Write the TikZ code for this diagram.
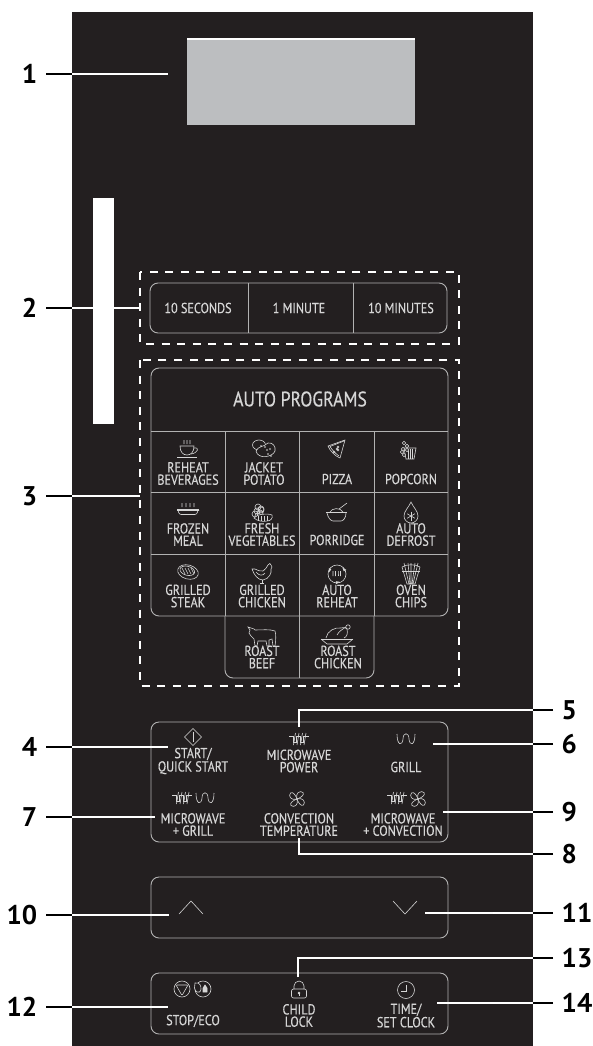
\documentclass[tikz,border=0pt]{standalone}
\usepackage{fontspec}
\usetikzlibrary{calc}
\usetikzlibrary{positioning}
\definecolor{panelblack}{RGB}{35, 31, 32}
\definecolor{displaygray}{RGB}{188, 190, 192}
\definecolor{keygray}{RGB}{214, 214, 214}
\definecolor{framegray}{RGB}{178, 178, 178}
\newfontfamily\keyfont[FakeStretch=0.84, FakeBold=0.35]{PT Sans}
\newfontfamily\numfont[FakeStretch=1.0, BoldFont={PT Sans Bold}]{PT Sans}
\tikzset{
    panel/.style={fill=panelblack, inner sep=0pt, anchor=north west},
    numlabel/.style={font=\numfont\bfseries\fontsize{27}{27}\selectfont, inner ysep=0pt, inner xsep=8.5pt, text=black},
    keytext/.style={font=\keyfont\fontsize{14.5}{12.3}\selectfont, align=center, text=keygray, inner sep=0pt},
    keyframe/.style={draw=framegray, line width=0.9pt, rounded corners=8pt},
    gridline/.style={draw=framegray, line width=0.9pt},
    dashbox/.style={draw=white, line width=1.2pt, dash pattern=on 8pt off 7.6pt},
    leaderin/.style={draw=white, line width=1.4pt},
    leaderout/.style={draw=black, line width=1.4pt},
    icon/.style={draw=keygray, line width=0.6pt},
    iconcup/.pic={
        \draw[icon] (-8,-3) -- (6,-3) .. controls (6,3) and (3,6) .. (-1,6) .. controls (-5,6) and (-8,3) .. (-8,-3) -- cycle;
        \draw[icon] (-11,8) -- (9,8);
        \draw[icon] (6,-1) .. controls (12,-2) and (10,4) .. (3,5);
        \foreach \x in {-4,-1,2} \draw[icon] (\x,-9) .. controls (\x+1.5,-7.5) and (\x-1.5,-6.5) .. (\x,-5);
    },
    iconpotato/.pic={
        \draw[icon] (-5,-4) ellipse [x radius=6.5, y radius=5];
        \draw[icon, fill=panelblack] (-8,2) .. controls (-6,-3) and (0,-2) .. (4,-6) .. controls (9,-7) and (12,-2) .. (11,2) .. controls (9,8) and (-6,11) .. (-8,2) -- cycle;
        \foreach \x/\y in {-3,3/1,4/5,1/-2,6/0,7} \draw[icon] (\x,\y) circle (0.4);
    },
    iconpizza/.pic={
        \draw[icon] (8,-9) -- (-9,-3) .. controls (-7,2) and (-2,7) .. (3,9) -- cycle;
        \draw[icon] (7,-8) -- (-7,-2.5) .. controls (-5,1) and (-1,5) .. (2,7);
        \foreach \x/\y in {1,-3/3,1/-2,0} \draw[icon] (\x,\y) circle (1);
    },
    iconpopcorn/.pic={
        \draw[icon] (-6,-1) -- (6,-1) -- (4,10) -- (-4,10) -- cycle;
        \foreach \x in {-2,0.5,2.5} \draw[icon] (\x,0) -- (\x,10);
        \foreach \x/\y in {-6,-3/-3,-7/0,-8/3,-6/6,-3/1,-3} \draw[icon, fill=panelblack] (\x,\y) circle (1.8);
    },
    icondish/.pic={
        \draw[icon] (-11,0) -- (11,0);
        \draw[icon] (-11,1.5) -- (11,1.5) (-10,1.5) .. controls (-9,5) and (-8,5.5) .. (-7,5.5) -- (7,5.5) .. controls (8,5.5) and (9,5) .. (10,1.5);
        \foreach \x in {-6,-2,2,6} \draw[icon] (\x,-6) .. controls (\x+1.2,-4.5) and (\x-1.2,-3.5) .. (\x,-2);
    },
    iconveg/.pic={
        \foreach \x/\y in {-5,-6/-1,-8/2,-5/4,-2/-3,-3/1,-2} \draw[icon] (\x,\y) circle (3);
        \draw[icon, fill=panelblack] (-9,6) .. controls (-6,2) and (4,1) .. (9,3) .. controls (10,6) and (8,9) .. (4,9) .. controls (0,10) and (-6,9) .. (-9,6) -- cycle;
        \foreach \x in {-5,-2,1,4} \draw[icon] (\x,4) -- (\x,9);
    },
    iconbowl/.pic={
        \draw[icon] (-11,0) -- (10,0);
        \draw[icon] (-10,1) .. controls (-9,6) and (-6,9) .. (-4,9) -- (4,9) .. controls (6,9) and (9,6) .. (9,1);
        \draw[icon] (-7,0) .. controls (-5,-4) and (3,-5) .. (6,0);
        \draw[icon] (2,-3) -- (10,-9);
    },
    icondrop/.pic={
        \draw[icon] (0,-11) .. controls (-2,-6) and (-7,-2) .. (-7,3) .. controls (-7,7) and (-3.5,10) .. (0,10) .. controls (3.5,10) and (7,7) .. (7,3) .. controls (7,-2) and (2,-6) .. (0,-11) -- cycle;
        \foreach \a in {0,60,120} \draw[icon, rotate around={\a:(0,3)}] (0,-1.5) -- (0,7.5);
    },
    iconsteak/.pic={
        \draw[icon, rotate=-15] (0,0) ellipse [x radius=10.5, y radius=7];
        \draw[icon, rotate=-15] (-1,-1) ellipse [x radius=7.5, y radius=4.5];
        \foreach \x in {-5,-2,1,4} \draw[icon] (\x-1,-4) -- (\x+2,2);
    },
    iconchicken/.pic={
        \draw[icon] (-10,-4) -- (-7,-4) .. controls (-4,-3) and (-2,-1) .. (1,-2) .. controls (4,-3) and (4,-6) .. (6,-8) .. controls (7,-10) and (9,-10) .. (9,-8) -- (10,-6) -- (9,-4) .. controls (10,0) and (7,6) .. (1,7) .. controls (-4,7) and (-8,2) .. (-10,-4) -- cycle;
        \draw[icon] (-6,-1) .. controls (-3,3) and (1,3) .. (3,0);
        \draw[icon] (0,7) -- (0,10) (-2,10) -- (2,10);
    },
    iconreheat/.pic={
        \draw[icon] (0,0) circle (9);
        \foreach \a in {90,210,330} \draw[icon, fill=keygray] (\a:9) ++(\a-30:-1.6) -- ++(\a:2) -- ++(\a-120:3.2) -- cycle;
        \foreach \x in {-4,-1.5,1,3.5} \draw[icon] (\x,-3) .. controls (\x+1.5,-1.5) and (\x-1.5,0) .. (\x,2);
    },
    iconchips/.pic={
        \draw[icon] (-9,-7) -- (-4,10) -- (4,10) -- (9,-7);
        \draw[icon] (-9,-7) .. controls (-5,-10) and (5,-10) .. (9,-7);
        \draw[icon] (-7,-11) -- (-2,10) (-3,-11) -- (-1,10) (0,-11) -- (0,10) (4,-11) -- (1,10) (7,-11) -- (2,10);
        \draw[icon] (-9,-3) -- (9,-3);
    },
    iconcow/.pic={
        \draw[icon] (-14,-9) -- (-8,-7) -- (-7,-6) .. controls (0,-6) and (8,-7) .. (13,-5) .. controls (14,-2) and (14,4) .. (13,10) -- (11,10) -- (10,3) -- (7,4) -- (7,10) -- (5,10) -- (4,5) -- (-4,5) -- (-5,10) -- (-7,10) -- (-8,3) -- (-11,0) -- (-13,-3) -- (-12,-6) -- cycle;
    },
    iconroast/.pic={
        \draw[icon] (-16,4) -- (16,4);
        \draw[icon] (-16,4) -- (-10,9) -- (10,9) -- (16,4);
        \draw[icon] (-11,3) .. controls (-10,-4) and (-2,-8) .. (4,-7) .. controls (8,-8) and (9,-7) .. (10,-6);
        \draw[icon] (10,-6) .. controls (11,-2) and (10,2) .. (7,3);
        \draw[icon] (0,0) .. controls (2,-4) and (6,-6) .. (9,-8);
        \draw[icon] (11,-8) circle (2.2);
    },
    iconstart/.pic={
        \draw[icon] (0,-8.5) -- (8.5,0) -- (0,8.5) -- (-8.5,0) -- cycle;
        \draw[icon] (0,-5) -- (0,5);
    },
    iconmwave/.pic={
        \draw[icon] (-10,-2.5) -- (-6,-2.5) -- (-6,3) -- (-2.5,3) -- (-2.5,-2.5) -- (1,-2.5) -- (1,3) -- (4.5,3) -- (4.5,-2.5) -- (10,-2.5);
        \foreach \x in {-4.5,-1,2.5,6} \draw[icon] (\x+1,-6) -- (\x-1,6);
    },
    icongrill/.pic={
        \draw[icon] (-9,-5) .. controls (-9,7) and (-3.5,7) .. (-3,0) .. controls (-3,-7) and (3,-7) .. (3,0) .. controls (3.5,7) and (9,7) .. (9,-5);
    },
    iconfan/.pic={
        \foreach \a in {0,90,180,270} \draw[icon, rotate=\a] (0,0) .. controls (-2,-6) and (3,-9) .. (6,-6.5) .. controls (8,-4) and (3,-1) .. (0,0);
    },
    iconstop/.pic={
        \draw[icon] (0,0) circle (8);
        \draw[icon, rounded corners=1pt] (-6,-4) -- (6,-4) -- (0,6.5) -- cycle;
    },
    iconeco/.pic={
        \draw[icon] (0,0) circle (8);
        \draw[icon, fill=panelblack] (-8,-6) .. controls (-3,-7) and (-2,-3) .. (-2,0) .. controls (-2,3) and (-5,4) .. (-6,3) .. controls (-9,1) and (-9,-3) .. (-8,-6) -- cycle;
        \draw[icon, fill=keygray] (2,-4) -- (0,-1) -- (0,3) -- (4,3) -- (4,-1) -- cycle;
    },
    iconlock/.pic={
        \draw[icon, rounded corners=2pt] (-7.5,-1) rectangle (7.5,8);
        \draw[icon] (-5,-1) -- (-5,-4) arc [start angle=180, end angle=0, x radius=5, y radius=-5] -- (5,-1);
        \draw[icon, fill=keygray] (0,3) circle (1);
        \draw[icon] (0,3) -- (0,6);
    },
    iconclock/.pic={
        \draw[icon] (0,0) circle (8.5);
        \draw[icon] (0,-5) -- (0,1.5) -- (-5.5,1.5);
    },
}
\begin{document}
\begin{tikzpicture}[x=1pt, y=-1pt]
    \useasboundingbox (0,0) rectangle (593,1046);

    % Panel, display and strip
    \node[panel, minimum width=461pt, minimum height=1034pt] (front) at (72,12) {};
    \node[panel, fill=displaygray, minimum width=228pt, minimum height=86pt] (display) at (187,39) {};
    \draw[white, line width=1.2pt] (display.north west) -- (display.north east);
    \node[panel, fill=white, minimum width=21pt, minimum height=226pt] (strip) at (93,198) {};

    % Dashed boxes
    \draw[dashbox] (140,272) rectangle (459,344);
    \draw[dashbox] (140,360) rectangle (459,686);

    % Time buttons
    \draw[keyframe] (150,283) rectangle (447,333);
    \draw[gridline] (248,283) -- (248,333);
    \draw[gridline] (353,283) -- (353,333);
    \node[keytext] (t10s) at (198,308) {10 SECONDS};
    \node[keytext] (t1m) at (299,308) {1 MINUTE};
    \node[keytext] (t10m) at (401,308) {10 MINUTES};

    % Auto programs
    \draw[keyframe] (151,368) rectangle (448,616);
    \draw[keyframe] (225,616) -- (225,678) -- (374,678) -- (374,616);
    \draw[gridline] (151,431) -- (448,431);
    \draw[gridline] (151,492) -- (448,492);
    \draw[gridline] (151,554) -- (448,554);
    \draw[gridline] (225,431) -- (225,616);
    \draw[gridline] (299,431) -- (299,678);
    \draw[gridline] (374,431) -- (374,616);
    \node[keytext, font=\keyfont\fontsize{21}{21}\selectfont] (tauto) at (300,399) {AUTO PROGRAMS};

    \pic at (188,449) {iconcup};
    \pic at (264,449) {iconpotato};
    \pic at (337,449) {iconpizza};
    \pic at (410,449) {iconpopcorn};
    \node[keytext] (treheat) at (188,473.5) {REHEAT\\BEVERAGES};
    \node[keytext] (tjacket) at (264,473.5) {JACKET\\POTATO};
    \node[keytext] (tpizza) at (337,479) {PIZZA};
    \node[keytext] (tpopcorn) at (411,479) {POPCORN};

    \pic at (188,509) {icondish};
    \pic at (263,512) {iconveg};
    \pic at (337,512) {iconbowl};
    \pic at (411,513) {icondrop};
    \node[keytext] (tfrozen) at (188,534.5) {FROZEN\\MEAL};
    \node[keytext] (tfresh) at (262,534.5) {FRESH\\VEGETABLES};
    \node[keytext] (tporridge) at (337,540) {PORRIDGE};
    \node[keytext] (tdefrost) at (411,534.5) {AUTO\\DEFROST};

    \pic at (188,572) {iconsteak};
    \pic at (262,573) {iconchicken};
    \pic at (337,574) {iconreheat};
    \pic at (411,574) {iconchips};
    \node[keytext] (tsteak) at (188,596) {GRILLED\\STEAK};
    \node[keytext] (tgchicken) at (262,596) {GRILLED\\CHICKEN};
    \node[keytext] (tareheat) at (337,596) {AUTO\\REHEAT};
    \node[keytext] (tchips) at (411,596) {OVEN\\CHIPS};

    \pic at (262,636) {iconcow};
    \pic at (337,635) {iconroast};
    \node[keytext] (tbeef) at (262,657) {ROAST\\BEEF};
    \node[keytext] (trchicken) at (338,657) {ROAST\\CHICKEN};

    % Mode buttons
    \draw[keyframe] (151,722) rectangle (448,842);
    \pic at (193,737) {iconstart};
    \pic at (299,739) {iconmwave};
    \pic at (406,739) {icongrill};
    \node[keytext] (tstart) at (193,761) {START/\\QUICK START};
    \node[keytext] (tpower) at (299,761) {MICROWAVE\\POWER};
    \node[keytext] (tgrill) at (406,767) {GRILL};
    \pic at (182,798) {iconmwave};
    \pic at (205,798) {icongrill};
    \pic at (297,799) {iconfan};
    \pic at (397,798) {iconmwave};
    \pic at (418,799) {iconfan};
    \node[keytext] (tmwgrill) at (193,824.5) {MICROWAVE\\+ GRILL};
    \node[keytext] (tconv) at (299,824.5) {CONVECTION\\TEMPERATURE};
    \node[keytext] (tmwconv) at (403,824.5) {MICROWAVE\\+ CONVECTION};

    % Arrow buttons
    \draw[keyframe] (151,877) rectangle (448,938);
    \draw[icon] (179,914) -- (191,901) -- (203,914);
    \draw[icon] (393,901) -- (405,914) -- (417,901);

    % Bottom buttons
    \draw[keyframe] (151,973) rectangle (448,1034);
    \pic at (182,989) {iconstop};
    \pic at (203,989) {iconeco};
    \pic at (299,990) {iconlock};
    \pic at (406,990) {iconclock};
    \node[keytext] (tstop) at (193,1021) {STOP/ECO};
    \node[keytext] (tchild) at (299,1015.5) {CHILD\\LOCK};
    \node[keytext] (ttime) at (406,1015.5) {TIME/\\SET CLOCK};

    % Numbers on the left
    \node[numlabel, anchor=east] (n1) at (46,74) {1};
    \node[numlabel, anchor=east] (n2) at (46,308) {2};
    \node[numlabel, anchor=east] (n3) at (46,496) {3};
    \node[numlabel, anchor=east] (n4) at (46,747) {4};
    \node[numlabel, anchor=east] (n7) at (46,817) {7};
    \node[numlabel, anchor=east] (n10) at (46,915) {10};
    \node[numlabel, anchor=east] (n12) at (46,1007) {12};

    % Numbers on the right
    \node[numlabel, anchor=west] (n5) at (553,710) {5};
    \node[numlabel, anchor=west] (n6) at (553,744) {6};
    \node[numlabel, anchor=west] (n8) at (553,854) {8};
    \node[numlabel, anchor=west] (n9) at (553,812) {9};
    \node[numlabel, anchor=west] (n11) at (553,913) {11};
    \node[numlabel, anchor=west] (n13) at (553,958) {13};
    \node[numlabel, anchor=west] (n14) at (553,1003) {14};

    % Free ends of the leaders
    \coordinate (c1) at (168,74);
    \coordinate (c2) at (140,308);
    \coordinate (c3) at (140,496);
    \coordinate (c4) at (168,747);
    \coordinate (c7) at (155,817);
    \coordinate (c10) at (169,915);
    \coordinate (c12) at (168,1007);
    \coordinate (c5) at (299,727);
    \coordinate (c6) at (433,744);
    \coordinate (c8) at (299,838);
    \coordinate (c9) at (443,812);
    \coordinate (c11) at (425,913);
    \coordinate (c13) at (298,977);
    \coordinate (c14) at (437,1003);

    % Leaders: black on the paper, white on the panel
    \foreach \k in {1,2,3,4,7,10,12} {
        \draw[leaderout] (n\k.east) -- (n\k.east -| front.west);
        \draw[leaderin] (n\k.east -| front.west) -- (c\k);
    }
    \foreach \k in {5,6,8,9,11,13,14} {
        \draw[leaderout] (n\k.west) -- (n\k.west -| front.east);
    }
    \draw[leaderin] (c5) |- (n5.west -| front.east);
    \draw[leaderin] (c6) -- (n6.west -| front.east);
    \draw[leaderin] (c8) |- (n8.west -| front.east);
    \draw[leaderin] (c9) -- (n9.west -| front.east);
    \draw[leaderin] (c11) -- (n11.west -| front.east);
    \draw[leaderin] (c13) |- (n13.west -| front.east);
    \draw[leaderin] (c14) -- (n14.west -| front.east);
\end{tikzpicture}
\end{document}
